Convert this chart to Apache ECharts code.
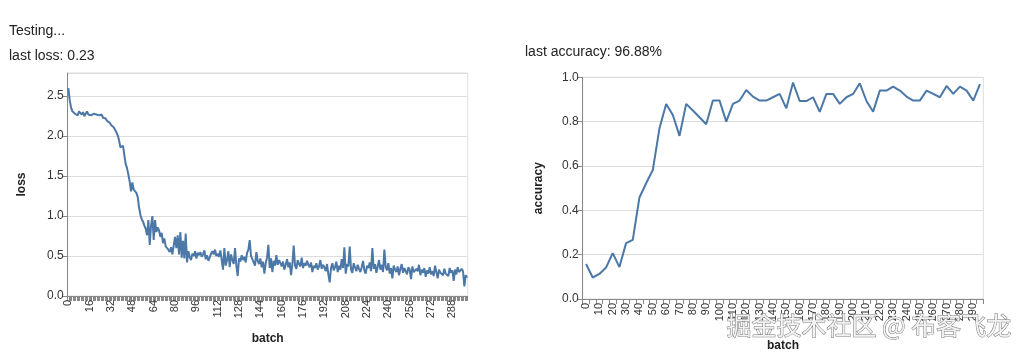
<!DOCTYPE html>
<html><head><meta charset="utf-8">
<script src="https://cdn.jsdelivr.net/npm/echarts@6/dist/echarts.min.js"></script>
<style>html,body{margin:0;padding:0;background:#fff;}#c{width:1024px;height:357px;}</style>
</head><body><div id="c"></div>
<script>
const lossValues = [
2.60,2.45,2.36,2.31,2.33,2.28,2.30,2.26,2.31,2.29,2.27,2.30,2.25,2.28,2.31,2.27,2.29,2.26,2.25,2.28,
2.30,2.27,2.29,2.26,2.24,2.27,2.23,2.25,2.22,2.19,2.21,2.17,2.14,2.16,2.11,2.08,2.05,2.01,1.95,1.86,
1.84,1.88,1.76,1.65,1.60,1.52,1.43,1.31,1.42,1.33,1.35,1.29,1.24,1.11,1.02,0.96,0.93,0.88,0.84,0.76,
0.95,0.64,0.88,1.00,0.70,0.95,0.80,0.86,0.82,0.74,0.79,0.66,0.72,0.62,0.64,0.58,0.55,0.61,0.52,0.50,
0.74,0.60,0.76,0.52,0.80,0.48,0.69,0.47,0.78,0.42,0.56,0.49,0.45,0.53,0.50,0.56,0.47,0.54,0.51,0.55,
0.49,0.52,0.57,0.46,0.51,0.44,0.48,0.53,0.56,0.52,0.58,0.50,0.53,0.49,0.57,0.55,0.33,0.60,0.38,0.45,
0.56,0.36,0.52,0.45,0.40,0.60,0.38,0.25,0.47,0.43,0.51,0.45,0.49,0.42,0.54,0.58,0.70,0.50,0.46,0.42,
0.38,0.55,0.44,0.40,0.47,0.36,0.43,0.28,0.41,0.48,0.64,0.35,0.47,0.30,0.44,0.38,0.51,0.39,0.45,0.41,
0.37,0.43,0.33,0.39,0.46,0.36,0.42,0.26,0.40,0.63,0.38,0.34,0.45,0.40,0.37,0.48,0.35,0.41,0.38,0.44,
0.39,0.36,0.42,0.30,0.38,0.35,0.41,0.33,0.37,0.45,0.34,0.39,0.36,0.31,0.40,0.27,0.17,0.35,0.41,0.32,
0.36,0.43,0.30,0.38,0.33,0.46,0.35,0.61,0.28,0.40,0.37,0.62,0.33,0.29,0.41,0.36,0.31,0.39,0.34,0.30,
0.36,0.44,0.32,0.28,0.38,0.35,0.42,0.31,0.60,0.34,0.40,0.29,0.37,0.45,0.33,0.39,0.30,0.58,0.36,0.32,
0.41,0.28,0.35,0.22,0.38,0.33,0.30,0.37,0.26,0.34,0.40,0.29,0.35,0.31,0.27,0.36,0.33,0.21,0.37,0.30,
0.28,0.34,0.31,0.39,0.26,0.33,0.29,0.35,0.24,0.32,0.28,0.36,0.27,0.31,0.25,0.38,0.30,0.22,0.33,0.29,
0.31,0.26,0.34,0.28,0.30,0.25,0.35,0.29,0.32,0.19,0.33,0.27,0.36,0.30,0.28,0.34,0.31,0.12,0.26,0.23
];
const lossBatches = lossValues.map((_, i) => String(i));

const accuracyValues = [
0.158,0.097,0.113,0.142,0.207,0.144,0.252,0.267,0.458,0.522,
0.582,0.770,0.880,0.830,0.736,0.880,0.850,0.820,0.788,0.895,
0.895,0.800,0.880,0.895,0.943,0.913,0.895,0.895,0.910,0.925,
0.860,0.976,0.893,0.893,0.910,0.844,0.925,0.925,0.880,0.910,
0.925,0.973,0.893,0.845,0.940,0.940,0.958,0.940,0.913,0.895,
0.895,0.940,0.925,0.910,0.961,0.925,0.958,0.940,0.895,0.9688
];
const accuracyBatches = accuracyValues.map((_, i) => String(i * 5));

const headerTexts = ['Testing...', 'last loss: 0.23', 'last accuracy: 96.88%'];
const watermark = '掘金技术社区 @ 布客飞龙';

const FONT = '"Liberation Sans", Arial, Helvetica, sans-serif';
const LINE = '#4c78a8';
const AX = '#888';
const GRIDC = '#ddd';

const chart = echarts.init(document.getElementById('c'), null, {renderer: 'canvas'});

function xAxisCfg(gridIndex, data, labelInterval, nameGap) {
  return {
    type: 'category', gridIndex, data, boundaryGap: true,
    name: 'batch', nameLocation: 'middle', nameGap,
    nameTextStyle: {fontFamily: FONT, fontWeight: 'bold', fontSize: 12, color: '#222'},
    axisLine: {show: true, lineStyle: {color: AX, width: 1}},
    axisTick: {show: true, interval: 0, length: 5, lineStyle: {color: AX, width: 1}},
    axisLabel: {interval: labelInterval, rotate: 90, fontFamily: FONT, fontSize: 11, color: '#333', margin: 4},
    splitLine: {show: false}
  };
}
function yAxisCfg(gridIndex, name, max, interval, nameGap) {
  return {
    type: 'value', gridIndex, min: 0, max, interval,
    name, nameLocation: 'middle', nameGap, nameRotate: 90,
    nameTextStyle: {fontFamily: FONT, fontWeight: 'bold', fontSize: 12, color: '#222'},
    axisLine: {show: true, lineStyle: {color: AX, width: 1}},
    axisTick: {show: true, length: 5, lineStyle: {color: AX}},
    axisLabel: {showMaxLabel: max === 1, fontFamily: FONT, fontSize: 12, color: '#333', margin: 4,
      formatter: v => v.toFixed(1)},
    splitLine: {show: true, lineStyle: {color: GRIDC, width: 1}}
  };
}

chart.setOption({
  animation: false,
  grid: [
    {left: 67.7, top: 73, width: 400, height: 223, show: true, borderColor: GRIDC, borderWidth: 1, containLabel: false},
    {left: 582.7, top: 77.3, width: 400.6, height: 222, show: true, borderColor: GRIDC, borderWidth: 1, containLabel: false}
  ],
  xAxis: [
    xAxisCfg(0, lossBatches, 15, 37),
    xAxisCfg(1, accuracyBatches, 1, 41)
  ],
  yAxis: [
    yAxisCfg(0, 'loss', 2.79, 0.5, 40),
    yAxisCfg(1, 'accuracy', 1, 0.2, 38)
  ],
  series: [
    {type: 'line', xAxisIndex: 0, yAxisIndex: 0, data: lossValues, showSymbol: false,
      lineStyle: {color: LINE, width: 2}, itemStyle: {color: LINE}},
    {type: 'line', xAxisIndex: 1, yAxisIndex: 1, data: accuracyValues, showSymbol: false,
      lineStyle: {color: LINE, width: 2}, itemStyle: {color: LINE}}
  ],
  graphic: [
    {type: 'text', left: 9, top: 24, style: {text: headerTexts[0], font: '14px ' + FONT, fill: '#222'}},
    {type: 'text', left: 9, top: 49, style: {text: headerTexts[1], font: '14px ' + FONT, fill: '#222'}},
    {type: 'text', left: 525, top: 45, style: {text: headerTexts[2], font: '14px ' + FONT, fill: '#222'}},
    {type: 'text', left: 726, top: 312, z: 100, style: {text: watermark, font: '25px "Noto Sans CJK SC", sans-serif',
      fill: '#f2f2f2', stroke: '#777', lineWidth: 1}}
  ]
});
</script></body></html>
